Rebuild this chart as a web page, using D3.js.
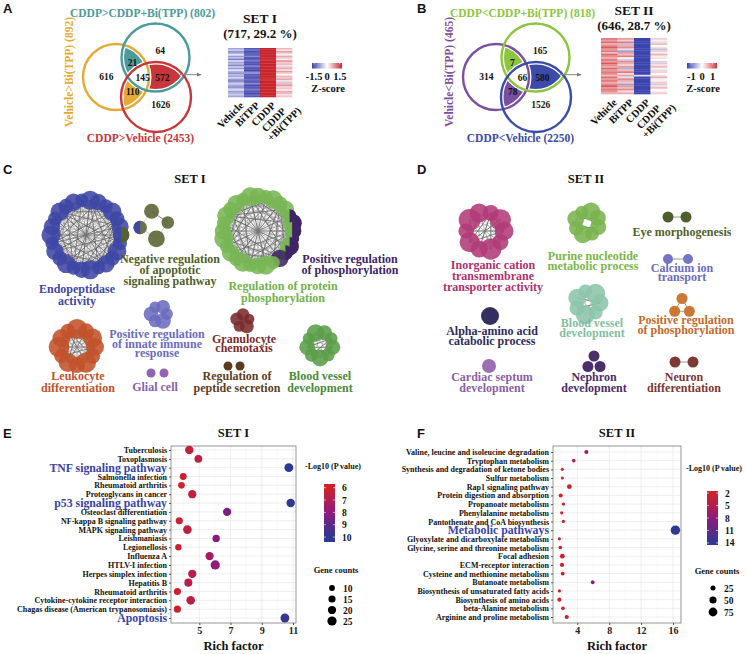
<!DOCTYPE html>
<html>
<head>
<meta charset="utf-8">
<script src="https://cdn.jsdelivr.net/npm/d3@7"></script>
<style>
  body { margin: 0; background: #fff; }
  text { font-family: "Liberation Serif", "DejaVu Serif", serif; font-weight: bold; }
</style>
</head>
<body>
<svg id="fig" width="747" height="654"></svg>
<script>
// ---------------- data ----------------
const vennA_counts = { L: 616, T: 64, B: 1626, LT: 21, LB: 110, TB: 572, LTB: 145 }
const vennA_names = ["Vehicle>Bi(TPP) (892)", "CDDP>CDDP+Bi(TPP) (802)", "CDDP>Vehicle (2453)"]
const vennB_counts = { L: 314, T: 165, B: 1526, LT: 7, LB: 78, TB: 580, LTB: 66 }
const vennB_names = ["Vehicle<Bi(TPP) (465)", "CDDP<CDDP+Bi(TPP) (818)", "CDDP<Vehicle (2250)"]

const hmCols = ["Vehicle", "BiTPP", "CDDP", "CDDP|+Bi(TPP)"]
const hmA_vehicle = [-0.7,-0.4,-0.9,-0.6,-0.2,-0.8,-0.5,-1.0,-0.3,-0.7,-0.6,-0.9,-0.4,-0.8,-0.2,-0.6,-0.9,-0.5,-0.7,-0.3,-0.8,-1.0,-0.6,-0.4,-0.7,-0.9,-0.5,-0.3,-0.8,-0.6,-0.4,-0.7]
const hmA_bitpp = [-1.3,-1.1,-1.4,-1.2,-1.3,-0.9,-1.4,-1.2,-1.1,-1.3,-1.4,-1.0,-1.2,-1.3,-1.4,-1.1,-0.8,-1.3,-1.2,-1.4,-1.1,-1.3,-1.2,-1.0,-1.4,-1.3,-1.2,-1.1,-1.3,-1.4,-1.2,-1.3]
const hmA_cddp = [1.5,1.5,1.5,1.5,1.5,1.5,1.5,1.4,1.5,1.5,1.5,1.5,1.5,1.5,1.5,1.5,1.5,1.5,1.5,1.5,1.4,1.5,1.5,1.5,1.5,1.5,1.5,1.5,1.5,1.5,1.5,1.5]
const hmA_combo = [0.5,0.2,0.7,0.3,-0.1,0.6,0.4,0.1,0.8,0.3,0.5,-0.2,0.4,0.6,0.2,0.7,0.3,0.0,0.5,0.4,0.6,0.2,-0.4,0.5,0.7,0.3,0.4,0.1,0.6,0.5,0.2,0.4]
const hmB_vehicle = [0.8,0.6,0.9,0.5,0.7,1.0,0.6,0.8,0.4,0.9,0.7,0.5,0.8,0.6,1.0,0.7,0.5,0.9,0.6,0.8,0.7,0.4,0.9,0.6,0.8,0.5,0.7,1.0,0.6,0.8,0.7,0.5]
const hmB_bitpp = [0.6,0.3,0.8,-0.4,0.5,0.7,0.2,-0.6,0.6,0.4,0.8,0.1,-0.3,0.7,0.5,0.3,0.6,-0.5,0.4,0.8,0.2,0.6,-0.2,0.7,0.5,0.3,-0.6,0.6,0.4,0.7,0.2,0.5]
const hmB_cddp = [-1.2,-1.2,-1.2,-1.2,-1.2,-1.2,-1.2,-1.2,-1.2,-1.2,-1.2,-1.2,-1.2,-1.2,-1.2,-1.2,-1.2,-1.2,-1.2,-1.2,-1.2,-0.2,-1.2,-1.2,-1.2,-1.2,-1.2,-1.2,-1.2,-1.2,-1.2,-1.2]
const hmB_combo = [0.3,0.1,-0.2,0.4,0.0,0.2,-0.4,0.3,0.1,0.5,-0.1,0.2,0.0,0.3,-0.3,0.2,0.4,0.1,-0.2,0.3,0.0,0.2,0.5,-0.1,0.1,0.3,-0.3,0.2,0.4,0.0,0.1,0.3]

// network clusters (n = number of nodes)
const netC = [
  { id: "endo", n: 26, color: "#3f47a5", edges: [3,5,7,9,11,13], halves: [[0, "#556330", "right"]] },
  { id: "negreg", n: 4, color: "#556330", edges: [1], halves: [[3, "#3f47a5", "left"]] },
  { id: "protphos", n: 28, color: "#78b653", edges: [3,5,7,9,11,14], halves: [[0,"#3f2466","right"],[1,"#3f2466","right"],[2,"#3f2466","right"],[3,"#3f2466","right"],[27,"#3f2466","right"],[26,"#3f2466","right"]], full: [[4, "#3f2466"]] },
  { id: "leuk", n: 12, color: "#c2522a", edges: [2,3,4,5,6] },
  { id: "innate", n: 6, color: "#6c6cbf", edges: [] },
  { id: "glial", n: 2, color: "#9063b3", edges: [] },
  { id: "gran", n: 5, color: "#7a2a2c", edges: [] },
  { id: "peptide", n: 2, color: "#5b3b1d", edges: [] },
  { id: "bvC", n: 9, color: "#5a9e48", edges: [2,3,4] }
]
const netD = [
  { id: "inorg", n: 10, color: "#b23a78", edges: [2,3,4,5] },
  { id: "purine", n: 8, color: "#7ab34d", edges: [3] },
  { id: "eye", n: 2, color: "#4f5e2c", edges: [1] },
  { id: "calcium", n: 2, color: "#7474c7", edges: [1], arrow: true },
  { id: "bvD", n: 7, color: "#8cc5a8", edges: [3] },
  { id: "posphos", n: 3, color: "#cc7733", edges: [1] },
  { id: "alpha", n: 1, color: "#333060", edges: [] },
  { id: "cardiac", n: 1, color: "#9a6fb3", edges: [] },
  { id: "nephron", n: 3, color: "#4b2f6b", edges: [] },
  { id: "neuron", n: 2, color: "#7c3a35", edges: [1] }
]
const labelsC = [
  { id: "endo", lines: ["Endopeptidase", "activity"], color: "#3f47a5" },
  { id: "negreg", lines: ["Negative regulation", "of apoptotic", "signaling pathway"], color: "#4f5e2a" },
  { id: "protphos", lines: ["Regulation of protein", "phosphorylation"], color: "#72b24a" },
  { id: "posphosC", lines: ["Positive regulation", "of phosphorylation"], color: "#3d2466" },
  { id: "leuk", lines: ["Leukocyte", "differentiation"], color: "#c2522a" },
  { id: "innate", lines: ["Positive regulation", "of innate immune", "response"], color: "#6c6cbf" },
  { id: "glial", lines: ["Glial cell"], color: "#8a5fb0" },
  { id: "gran", lines: ["Granulocyte", "chemotaxis"], color: "#7a2a2e" },
  { id: "peptide", lines: ["Regulation of", "peptide secretion"], color: "#5c3d1e" },
  { id: "bvC", lines: ["Blood vessel", "development"], color: "#4a8a3a" }
]
const labelsD = [
  { id: "inorg", lines: ["Inorganic cation", "transmembrane", "transporter activity"], color: "#b0306e" },
  { id: "purine", lines: ["Purine nucleotide", "metabolic process"], color: "#7ab648" },
  { id: "eye", lines: ["Eye morphogenesis"], color: "#4f5f2a" },
  { id: "calcium", lines: ["Calcium ion", "transport"], color: "#6c6cc0" },
  { id: "bvD", lines: ["Blood vessel", "development"], color: "#7fbf9f" },
  { id: "posphos", lines: ["Positive regulation", "of phosphorylation"], color: "#c46a2a" },
  { id: "alpha", lines: ["Alpha-amino acid", "catabolic process"], color: "#2e2d5c" },
  { id: "cardiac", lines: ["Cardiac septum", "development"], color: "#8a5fa8" },
  { id: "nephron", lines: ["Nephron", "development"], color: "#4a2d6a" },
  { id: "neuron", lines: ["Neuron", "differentiation"], color: "#7b3535" }
]

const E_terms = ["Tuberculosis","Toxoplasmosis","TNF signaling pathway","Salmonella infection","Rheumatoid arthritis","Proteoglycans in cancer","p53 signaling pathway","Osteoclast differentiation","NF-kappa B signaling pathway","MAPK signaling pathway","Leishmaniasis","Legionellosis","Influenza A","HTLV-I infection","Herpes simplex infection","Hepatitis B","Rheumatoid arthritis","Cytokine-cytokine receptor interaction","Chagas disease (American trypanosomiasis)","Apoptosis"]
const E_rich = [4.36,4.94,10.73,3.97,3.86,4.55,10.85,6.78,3.72,4.24,6.08,3.66,5.66,6.02,4.55,4.3,3.6,4.45,3.6,10.48]
const E_logp = [6.4,6.6,10.0,6.2,6.0,6.5,10.0,8.4,6.3,6.6,8.2,6.1,7.4,7.9,6.7,6.8,6.2,6.7,6.2,9.8]
const E_count = [21,18,23,14,13,20,21,20,15,22,16,12,20,25,20,19,15,22,15,23]
const E_highlight = ["TNF signaling pathway","p53 signaling pathway","Apoptosis"]

const F_terms = ["Valine, leucine and isoleucine degradation","Tryptophan metabolism","Synthesis and degradation of ketone bodies","Sulfur metabolism","Rap1 signaling pathway","Protein digestion and absorption","Propanoate metabolism","Phenylalanine metabolism","Pantothenate and CoA biosynthesis","Metabolic pathways","Glyoxylate and dicarboxylate metabolism","Glycine, serine and threonine metabolism","Focal adhesion","ECM-receptor interaction","Cysteine and methionine metabolism","Butanoate metabolism","Biosynthesis of unsaturated fatty acids","Biosynthesis of amino acids","beta-Alanine metabolism","Arginine and proline metabolism"]
const F_rich = [5.13,3.55,2.12,2.12,3.0,1.92,2.25,2.04,2.25,16.3,1.75,1.87,2.12,2.08,2.17,5.93,1.75,1.75,2.2,2.67]
const F_logp = [6.5,4.5,2.3,2.3,2.6,2.2,2.6,2.4,2.5,14.0,2.2,2.3,2.4,2.4,2.5,7.5,2.2,2.3,2.5,2.8]
const F_count = [16,13,9,9,22,16,11,10,10,86,10,13,22,17,14,14,10,16,13,17]
const F_highlight = ["Metabolic pathways"]

// ---------------- drawing ----------------
const svg = d3.select("#fig")
const defs = svg.append("defs")
svg.append("rect").attr("width", 747).attr("height", 654).attr("fill", "#fff")

const sans = '"Liberation Sans", Arial, sans-serif'
;[["A", 3, 13], ["B", 417, 13], ["C", 3, 174], ["D", 417, 174], ["E", 3, 438], ["F", 417, 438]].forEach(([t, x, y]) => {
  svg.append("text").attr("x", x).attr("y", y).text(t)
    .style("font-family", sans).style("font-size", "13px").attr("fill", "#111")
})

defs.append("marker").attr("id", "arr").attr("viewBox", "0 0 10 10").attr("refX", 9).attr("refY", 5)
  .attr("markerWidth", 5).attr("markerHeight", 5).attr("orient", "auto")
  .append("path").attr("d", "M0,1L10,5L0,9Z").attr("fill", "#777")

// venn geometry (L = left, T = top, B = bottom)
const vennGeo = { L: [116, 77, 33], T: [155.5, 57.5, 34], B: [156, 97, 35] }

function drawVenn(id, counts, names, colors, dx) {
  const g = svg.append("g").attr("transform", `translate(${dx},0)`)
  const keys = ["L", "T", "B"]
  keys.forEach(k => {
    defs.append("clipPath").attr("id", id + k).append("circle")
      .attr("cx", vennGeo[k][0]).attr("cy", vennGeo[k][1]).attr("r", vennGeo[k][2])
  })
  const circ = (sel, k) => sel.append("circle").attr("cx", vennGeo[k][0]).attr("cy", vennGeo[k][1]).attr("r", vennGeo[k][2])
  circ(g.append("g").attr("clip-path", `url(#${id}T)`), "L").attr("fill", colors.T)
  circ(g.append("g").attr("clip-path", `url(#${id}L)`), "B").attr("fill", colors.L)
  circ(g.append("g").attr("clip-path", `url(#${id}T)`), "B").attr("fill", colors.B)
  circ(g.append("g").attr("clip-path", `url(#${id}T)`).append("g").attr("clip-path", `url(#${id}L)`), "B").attr("fill", "#fff")
  keys.forEach(k => circ(g, k).attr("fill", "none").attr("stroke", "#fff").attr("stroke-width", 5))
  keys.forEach(k => circ(g, k).attr("fill", "none").attr("stroke", colors[k]).attr("stroke-width", 2.4))

  const cen = [d3.mean(keys, k => vennGeo[k][0]), d3.mean(keys, k => vennGeo[k][1])]
  Object.keys(counts).forEach(reg => {
    const ks = reg.split("")
    const m = [d3.mean(ks, k => vennGeo[k][0]), d3.mean(ks, k => vennGeo[k][1])]
    const a = ks.length === 1 ? 0.36 : ks.length === 2 ? 0.5 : 0
    g.append("text").attr("x", m[0] + a * (m[0] - cen[0])).attr("y", m[1] + a * (m[1] - cen[1]) + 3.5)
      .attr("text-anchor", "middle").style("font-size", "9.5px").attr("fill", "#111").text(counts[reg])
  })
  g.append("text").attr("x", cen[0]).attr("y", vennGeo.T[1] - vennGeo.T[2] - 7)
    .attr("text-anchor", "middle").style("font-size", "11.5px").attr("fill", colors.T).text(names[1])
  g.append("text").attr("x", cen[0] - 2).attr("y", vennGeo.B[1] + vennGeo.B[2] + 10)
    .attr("text-anchor", "middle").style("font-size", "11.5px").attr("fill", colors.B).text(names[2])
  g.append("text").attr("transform", `translate(${vennGeo.L[0] - vennGeo.L[2] - 10},${vennGeo.L[1] - 5}) rotate(-90)`)
    .attr("text-anchor", "middle").style("font-size", "11.5px").attr("fill", colors.L).text(names[0])
  const ax = vennGeo.T[0] + 24.5
  g.append("line").attr("x1", ax).attr("x2", ax + 21).attr("y1", cen[1] - 2.5).attr("y2", cen[1] - 2.5)
    .attr("stroke", "#888").attr("stroke-width", 1).attr("marker-end", "url(#arr)")
}

drawVenn("vA", vennA_counts, vennA_names, { L: "#e3aa35", T: "#4d9a9c", B: "#c8353b" }, 0)
drawVenn("vB", vennB_counts, vennB_names, { L: "#7b4fa0", T: "#8cc63f", B: "#3c4aa8" }, 380)

function drawHeat(cols, box, color, title, sub, legend) {
  const g = svg.append("g")
  const nRows = cols[0].length
  const x = d3.scaleBand().domain(d3.range(cols.length)).range([box.x0, box.x1])
  const y = d3.scaleBand().domain(d3.range(nRows)).range([box.y0, box.y1])
  cols.forEach((col, ci) => {
    g.selectAll(null).data(col).join("rect")
      .attr("x", x(ci)).attr("width", x.bandwidth() + 0.3)
      .attr("y", (d, i) => y(i)).attr("height", y.bandwidth() + 0.3)
      .attr("fill", d => color(d))
  })
  const cx = (box.x0 + box.x1) / 2
  g.append("text").attr("x", cx).attr("y", box.ty).attr("text-anchor", "middle").style("font-size", "13.5px").attr("fill", "#111").text(title)
  g.append("text").attr("x", cx).attr("y", box.ty + 14.5).attr("text-anchor", "middle").style("font-size", "13px").attr("fill", "#111").text(sub)
  hmCols.forEach((name, ci) => {
    const parts = name.split("|")
    const px = x(ci) + x.bandwidth() / 2 + 3, py = box.y1 + 4
    const t = g.append("text").attr("transform", `translate(${px},${py}) rotate(-45)`)
      .attr("text-anchor", "end").style("font-size", "10.5px").attr("fill", "#111")
    t.append("tspan").attr("x", parts.length > 1 ? -8 : 0).attr("dy", "0.7em").text(parts[0])
    if (parts.length > 1) t.append("tspan").attr("x", 3).attr("dy", "1.0em").text(parts[1])
  })
  // colour key
  const gid = "grad" + title.replace(/\s/g, "")
  const gr = defs.append("linearGradient").attr("id", gid)
  legend.stops.forEach((s, i) => gr.append("stop").attr("offset", i / (legend.stops.length - 1)).attr("stop-color", color(s)))
  const lx = d3.scaleLinear().domain(legend.domain).range([legend.x, legend.x + 30])
  g.append("rect").attr("x", legend.x).attr("y", legend.y).attr("width", 30).attr("height", 5.5).attr("fill", `url(#${gid})`)
  legend.ticks.forEach(v => {
    g.append("line").attr("x1", lx(v)).attr("x2", lx(v)).attr("y1", legend.y).attr("y2", legend.y + 1.5).attr("stroke", "#fff").attr("stroke-width", 0.6)
    g.append("text").attr("x", lx(v)).attr("y", legend.y + 17).attr("text-anchor", "middle").style("font-size", "10.5px").attr("fill", "#111").text(v)
  })
  g.append("text").attr("x", legend.x + 16).attr("y", legend.y + 29).attr("text-anchor", "middle").style("font-size", "10.5px").attr("fill", "#111").text("Z-score")
}

const heatColA = d3.scaleLinear().domain([-1.5, 0, 1.5]).range(["#3a3dab", "#ffffff", "#c9252c"]).clamp(true)
const heatColB = d3.scaleLinear().domain([-1.2, 0, 1.2]).range(["#3b45ad", "#ffffff", "#d0393c"]).clamp(true)
drawHeat([hmA_vehicle, hmA_bitpp, hmA_cddp, hmA_combo], { x0: 228, x1: 292, y0: 48, y1: 97, ty: 23 }, heatColA,
  "SET I", "(717, 29.2 %)", { x: 312, y: 63, domain: [-1.75, 1.75], ticks: [-1.5, 0, 1.5], stops: [-1.5, -0.75, 0, 0.75, 1.5] })
drawHeat([hmB_vehicle, hmB_bitpp, hmB_cddp, hmB_combo], { x0: 601, x1: 667, y0: 38, y1: 94, ty: 15 }, heatColB,
  "SET II", "(646, 28.7 %)", { x: 687, y: 63, domain: [-1.4, 1.4], ticks: [-1, 0, 1], stops: [-1.2, -0.6, 0, 0.6, 1.2] })

// ---------------- networks ----------------
const netLayout = {
  endo: { cx: 86, cy: 235, ring: 35, r: 8.3, rot: 0 },
  negreg: { cx: 154, cy: 225, ring: 14, r: 7.5, rot: -100 },
  protphos: { cx: 258, cy: 231, ring: 35, r: 8.3, rot: 0 },
  leuk: { cx: 77, cy: 347, ring: 18, r: 9, rot: 0 },
  innate: { cx: 159, cy: 314, ring: 8, r: 7, rot: -60 },
  glial: { cx: 157.5, cy: 373, ring: 6.5, r: 4.5, rot: 0 },
  gran: { cx: 243, cy: 321, ring: 6.5, r: 6.2, rot: -90 },
  peptide: { cx: 234, cy: 366, ring: 6, r: 4.5, rot: 0 },
  bvC: { cx: 320, cy: 345, ring: 13, r: 7.5, rot: 10 },
  inorg: { cx: 485, cy: 231, ring: 19, r: 9.5, rot: 0 },
  purine: { cx: 587, cy: 223, ring: 12, r: 8, rot: 20 },
  eye: { cx: 677, cy: 217, ring: 9, r: 5.5, rot: 0 },
  calcium: { cx: 678, cy: 259, ring: 10, r: 5, rot: 0 },
  bvD: { cx: 588, cy: 303, ring: 12, r: 8.5, rot: 0 },
  posphos: { cx: 682, cy: 307, ring: 8.5, r: 5.5, rot: -90 },
  alpha: { cx: 490, cy: 316, ring: 0, r: 9, rot: 0 },
  cardiac: { cx: 489, cy: 366, ring: 0, r: 7, rot: 0 },
  nephron: { cx: 594, cy: 363, ring: 7, r: 5.5, rot: -90 },
  neuron: { cx: 684, cy: 362, ring: 9, r: 5.5, rot: 0 }
}
const labelLayout = {
  endo: [77, 293, 11.5], negreg: [170, 263, 11], protphos: [283, 290, 12], posphosC: [350, 263, 11],
  leuk: [78, 380, 11.5], innate: [157, 338, 9.5], glial: [155, 391, 0], gran: [244, 343, 9],
  peptide: [237, 380, 11.5], bvC: [320, 380, 11.5],
  inorg: [493, 269, 11], purine: [593, 260, 9.5], eye: [682, 236, 0], calcium: [682, 272, 9],
  bvD: [592, 327, 10], posphos: [686, 324, 9.5], alpha: [492, 335, 10], cardiac: [492, 381, 10.5],
  nephron: [594, 381, 10.5], neuron: [684, 381, 10.5]
}
const sizeVar = [1, 0.84, 1.12, 0.9, 1.05, 0.8, 1.15]

defs.append("marker").attr("id", "arrk").attr("viewBox", "0 0 10 10").attr("refX", 10).attr("refY", 5)
  .attr("markerWidth", 4).attr("markerHeight", 4).attr("orient", "auto")
  .append("path").attr("d", "M0,0L10,5L0,10Z").attr("fill", "#333")

function drawNet(clusters, labels, title, tx) {
  const g = svg.append("g")
  g.append("text").attr("x", tx).attr("y", 183).attr("text-anchor", "middle").style("font-size", "12.5px").attr("fill", "#111").text(title)
  clusters.forEach(c => {
    const L = netLayout[c.id]
    const nodes = d3.range(c.n).map(i => {
      const a = (L.rot + i * 360 / c.n) * Math.PI / 180
      const k = c.n > 3 ? sizeVar[i % sizeVar.length] : 1
      return { x: L.cx + L.ring * Math.cos(a), y: L.cy + L.ring * Math.sin(a), r: L.r * k }
    })
    const links = []
    nodes.forEach((nd, i) => c.edges.forEach(s => { if (c.n === 2 && i === 1) return; links.push([nd, nodes[(i + s) % c.n], i]) }))
    const big = c.n > 3
    g.selectAll(null).data(links).join("line")
      .attr("x1", d => d[0].x).attr("y1", d => d[0].y)
      .attr("x2", d => c.arrow ? d[1].x - d[1].r : d[1].x).attr("y2", d => d[1].y)
      .attr("stroke", d => big && d[2] % 4 === 0 ? "#555" : "#8a8a8a")
      .attr("stroke-width", d => big ? (d[2] % 4 === 0 ? 0.9 : 0.45) : 1)
      .attr("stroke-opacity", 0.85)
      .attr("marker-end", c.arrow ? "url(#arrk)" : null)
    const full = new Map((c.full || []).map(d => [d[0], d[1]]))
    g.selectAll(null).data(nodes).join("circle")
      .attr("cx", d => d.x).attr("cy", d => d.y).attr("r", d => d.r)
      .attr("fill", (d, i) => full.get(i) || c.color).attr("fill-opacity", big ? 0.88 : 1)
    ;(c.halves || []).forEach(([i, col, side]) => {
      const d = nodes[i], sw = side === "right" ? 1 : 0
      g.append("path").attr("d", `M${d.x},${d.y - d.r}A${d.r},${d.r} 0 0 ${sw} ${d.x},${d.y + d.r}Z`).attr("fill", col)
    })
  })
  labels.forEach(l => {
    const [x, y, lh] = labelLayout[l.id]
    const t = g.append("text").attr("text-anchor", "middle").style("font-size", "12px").attr("fill", l.color)
    l.lines.forEach((s, i) => t.append("tspan").attr("x", x).attr("y", y + i * lh).text(s))
  })
}
drawNet(netC, labelsC, "SET I", 190)
drawNet(netD, labelsD, "SET II", 586)

// ---------------- bubble plots ----------------
function drawDots(o) {
  const g = svg.append("g")
  const x = d3.scaleLinear().domain(o.xdom).range([o.left, o.right])
  const y = d3.scalePoint().domain(d3.range(o.terms.length)).range([o.y0, o.y1])
  const col = d3.scaleLinear().domain(o.cdom).range(["#d02228", "#8f1a7c", "#2d3992"]).clamp(true)
  const size = d3.scaleSqrt().domain([0, o.smax]).range([0, o.rmax])
  g.append("rect").attr("x", o.left).attr("y", o.top).attr("width", o.right - o.left).attr("height", o.bottom - o.top).attr("fill", "#fff")
  g.selectAll(null).data(o.minor).join("line").attr("x1", d => x(d)).attr("x2", d => x(d)).attr("y1", o.top).attr("y2", o.bottom).attr("stroke", "#f3f3f3").attr("stroke-width", 0.5)
  g.selectAll(null).data(o.ticks).join("line").attr("x1", d => x(d)).attr("x2", d => x(d)).attr("y1", o.top).attr("y2", o.bottom).attr("stroke", "#e6e6e6").attr("stroke-width", 0.7)
  g.selectAll(null).data(d3.range(o.terms.length)).join("line").attr("x1", o.left).attr("x2", o.right).attr("y1", d => y(d)).attr("y2", d => y(d)).attr("stroke", "#e6e6e6").attr("stroke-width", 0.7)
  g.append("rect").attr("x", o.left).attr("y", o.top).attr("width", o.right - o.left).attr("height", o.bottom - o.top).attr("fill", "none").attr("stroke", "#8a8a8a").attr("stroke-width", 0.9)
  g.selectAll(null).data(o.terms.map((t, i) => i)).join("circle")
    .attr("cx", i => x(o.rich[i])).attr("cy", i => y(i)).attr("r", i => size(o.count[i])).attr("fill", i => col(o.logp[i]))

  const xa = g.append("g").attr("transform", `translate(0,${o.bottom})`)
    .call(d3.axisBottom(x).tickValues(o.ticks).tickSize(2).tickPadding(2))
  xa.select(".domain").remove()
  xa.selectAll("line").attr("stroke", "#555")
  xa.selectAll("text").style("font-family", '"Liberation Serif", serif').style("font-size", "10px").style("font-weight", "bold").attr("fill", "#222")
  const ya = g.append("g").attr("transform", `translate(${o.left},0)`)
    .call(d3.axisLeft(y).tickSize(2).tickPadding(2).tickFormat(i => o.terms[i]))
  ya.select(".domain").remove()
  ya.selectAll("line").attr("stroke", "#555")
  ya.selectAll("text").style("font-family", '"Liberation Serif", serif').style("font-weight", "bold")
    .style("font-size", i => o.highlight.includes(o.terms[i]) ? "11.8px" : "8px")
    .attr("fill", i => o.highlight.includes(o.terms[i]) ? "#3a44a6" : "#111")

  const cx = (o.left + o.right) / 2
  g.append("text").attr("x", cx).attr("y", o.top - 9).attr("text-anchor", "middle").style("font-size", "12.5px").attr("fill", "#111").text(o.title)
  g.append("text").attr("x", cx).attr("y", o.bottom + 27).attr("text-anchor", "middle").style("font-size", "12.5px").attr("fill", "#111").text("Rich factor")

  // colour legend
  g.append("text").attr("x", o.leg.tx).attr("y", o.leg.ty).style("font-size", "8px").attr("fill", "#111").text("-Log10 (P value)")
  const gid = "dg" + o.title.replace(/\s/g, "")
  const gr = defs.append("linearGradient").attr("id", gid).attr("x1", 0).attr("x2", 0).attr("y1", 0).attr("y2", 1)
  const cy = d3.scaleLinear().domain(o.leg.cdom).range([o.leg.by0, o.leg.by1])
  d3.range(11).forEach(i => {
    const v = o.leg.cdom[0] + (o.leg.cdom[1] - o.leg.cdom[0]) * i / 10
    gr.append("stop").attr("offset", i / 10).attr("stop-color", col(v))
  })
  g.append("rect").attr("x", o.leg.bx).attr("y", o.leg.by0).attr("width", 11).attr("height", o.leg.by1 - o.leg.by0).attr("fill", `url(#${gid})`)
  o.leg.ticks.forEach(v => {
    g.append("line").attr("x1", o.leg.bx).attr("x2", o.leg.bx + 2).attr("y1", cy(v)).attr("y2", cy(v)).attr("stroke", "#fff").attr("stroke-width", 0.6)
    g.append("line").attr("x1", o.leg.bx + 9).attr("x2", o.leg.bx + 11).attr("y1", cy(v)).attr("y2", cy(v)).attr("stroke", "#fff").attr("stroke-width", 0.6)
    g.append("text").attr("x", o.leg.bx + 18).attr("y", cy(v) + 3.5).style("font-size", "9.5px").attr("fill", "#111").text(v)
  })
  // size legend
  g.append("text").attr("x", o.leg.sx + 4).attr("y", o.leg.sty).attr("text-anchor", "middle").style("font-size", "8.5px").attr("fill", "#111").text("Gene counts")
  const sy = d3.scalePoint().domain(o.leg.sizes).range(o.leg.srange)
  o.leg.sizes.forEach(v => {
    g.append("circle").attr("cx", o.leg.sx).attr("cy", sy(v)).attr("r", size(v)).attr("fill", "#000")
    g.append("text").attr("x", o.leg.sx + 11).attr("y", sy(v) + 3.5).style("font-size", "9.5px").attr("fill", "#111").text(v)
  })
}

drawDots({
  title: "SET I", terms: E_terms, rich: E_rich, logp: E_logp, count: E_count, highlight: E_highlight,
  left: 171, right: 296, top: 446, bottom: 623, y0: 450, y1: 618,
  xdom: [3.19, 11.19], ticks: [5, 7, 9, 11], minor: [4, 6, 8, 10], cdom: [6, 8, 10], smax: 26, rmax: 4.7,
  leg: { tx: 305, ty: 469, bx: 324, by0: 484, by1: 542, cdom: [5.7, 10.4], ticks: [6, 7, 8, 9, 10],
    sx: 332, sty: 573, sizes: [10, 15, 20, 25], srange: [588, 621] }
})
drawDots({
  title: "SET II", terms: F_terms, rich: F_rich, logp: F_logp, count: F_count, highlight: F_highlight,
  left: 553, right: 681, top: 446, bottom: 623, y0: 452, y1: 617,
  xdom: [0.95, 17], ticks: [4, 8, 12, 16], minor: [2, 6, 10, 14], cdom: [2, 8, 14], smax: 90, rmax: 4.8,
  leg: { tx: 686, ty: 471, bx: 707, by0: 491, by1: 545, cdom: [1.5, 14.5], ticks: [2, 5, 8, 11, 14],
    sx: 713, sty: 574, sizes: [25, 50, 75], srange: [588, 612] }
})
</script>
</body>
</html>
